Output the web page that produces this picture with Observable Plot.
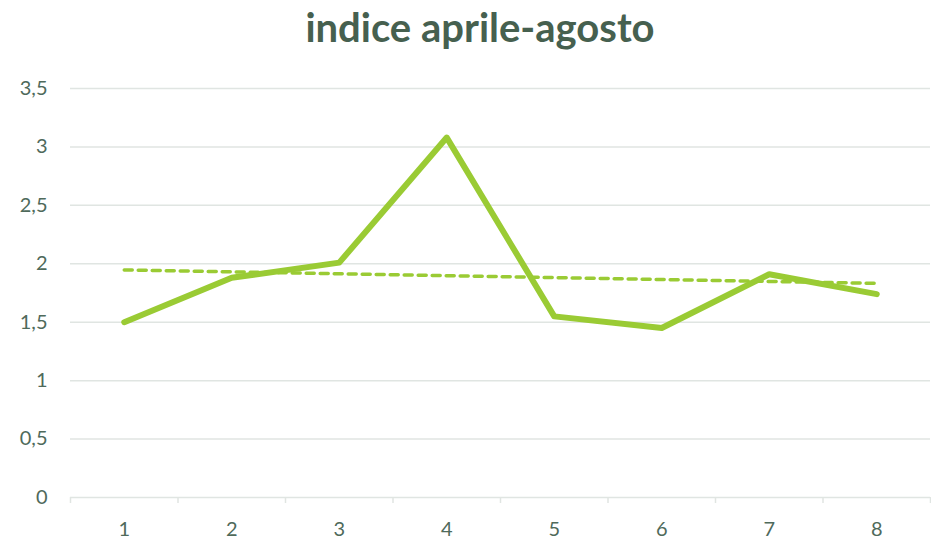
<!DOCTYPE html>
<html>
<head>
<meta charset="utf-8">
<script src="https://cdn.jsdelivr.net/npm/d3@7"></script>
<script src="https://cdn.jsdelivr.net/npm/@observablehq/plot@0.6"></script>
<style>
  html, body { margin: 0; padding: 0; background: #fff; }
  #title { height: 70px; box-sizing: border-box; padding-top: 3px; padding-left: 29px; text-align: center;
           font: bold 40px Lato, sans-serif; line-height: 48px; color: #46604f; }
  #chart svg { display: block; }
</style>
</head>
<body>
<div id="title">indice aprile-agosto</div>
<div id="chart"></div>
<script>
const categories = [1, 2, 3, 4, 5, 6, 7, 8];
const values = [1.50, 1.88, 2.01, 3.08, 1.55, 1.45, 1.91, 1.74];
const yTicks = [0, 0.5, 1, 1.5, 2, 2.5, 3, 3.5];

const data = categories.map((c, i) => ({x: c, y: values[i]}));
const boundaries = d3.range(0.5, categories.length + 1, 1);
const fmt = d => String(d).replace(".", ",");
const labelColor = "#4f6a5b";
const gridColor = "#e0e5e2";
const green = "#9acb34";

const chart = Plot.plot({
  width: 931,
  height: 469,
  marginLeft: 70,
  marginRight: 1,
  marginTop: 18,
  marginBottom: 42,
  style: {fontFamily: "Lato, sans-serif", fontSize: "20px", color: labelColor, background: "#fff"},
  x: {type: "linear", domain: [0.5, categories.length + 0.5]},
  y: {domain: [0, 3.5]},
  marks: [
    Plot.ruleY(yTicks, {stroke: gridColor, strokeWidth: 1.5}),
    Plot.axisY(yTicks, {tickSize: 0, tickPadding: 23, tickFormat: fmt, label: null, fill: labelColor, fontSize: 20}),
    Plot.axisX(boundaries, {tickSize: 6, tickFormat: () => "", stroke: gridColor, strokeWidth: 1.5, label: null}),
    Plot.axisX(categories, {tickSize: 0, tickPadding: 24, tickFormat: fmt, label: null, fill: labelColor, fontSize: 20}),
    Plot.linearRegressionY(data, {x: "x", y: "y", ci: 0, stroke: green, strokeWidth: 3.5, strokeDasharray: "8,6", strokeLinecap: "round"}),
    Plot.line(data, {x: "x", y: "y", stroke: green, strokeWidth: 6, strokeLinecap: "round", strokeLinejoin: "round"})
  ]
});
document.getElementById("chart").appendChild(chart);
</script>
</body>
</html>
